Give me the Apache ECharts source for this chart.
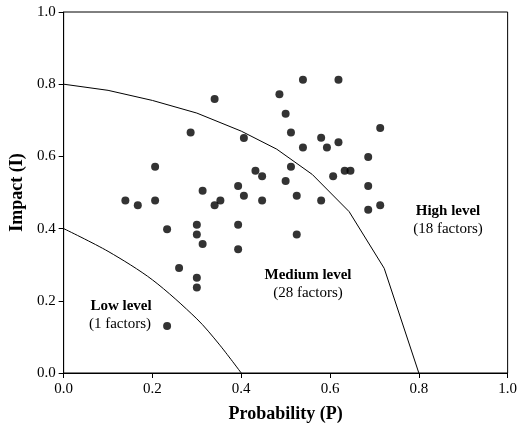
<!DOCTYPE html>
<html lang="en">
<head>
    <meta charset="UTF-8">
    <title>Probability-Impact matrix</title>
    <style>body{margin:0;}</style>
</head>
<body>
    <div id="main" style="width: 520px;height:432px;"></div>
</body>
<script src="https://cdn.jsdelivr.net/npm/echarts@6/dist/echarts.min.js"></script>
<script type="text/javascript">
    // factors: probability (P), impact (I)
    var probability = [0.340,0.486,0.500,0.512,0.286,0.406,0.206,0.512,0.432,0.447,0.500,0.393,0.313,0.406,0.525,
        0.139,0.167,0.206,0.340,0.353,0.447,0.539,0.619,0.713,0.580,0.593,0.619,0.539,0.686,0.633,0.646,0.607,
        0.686,0.580,0.686,0.713,0.233,0.300,0.300,0.313,0.393,0.393,0.525,0.260,0.300,0.300,0.233];
    var impact = [0.759,0.772,0.718,0.666,0.666,0.651,0.571,0.571,0.560,0.545,0.532,0.518,0.505,0.491,0.491,
        0.478,0.465,0.478,0.465,0.478,0.478,0.812,0.812,0.679,0.652,0.625,0.639,0.625,0.598,0.560,0.560,0.545,
        0.518,0.478,0.452,0.465,0.398,0.411,0.384,0.357,0.411,0.343,0.384,0.291,0.264,0.237,0.130];
    // boundary lines
    var lowLineX = [0, 0.1, 0.2, 0.3, 0.35, 0.4];
    var lowLineY = [0.4, 0.337, 0.258, 0.15, 0.08, 0];
    var highLineX = [0, 0.1, 0.2, 0.3, 0.4, 0.48, 0.56, 0.643, 0.722, 0.8];
    var highLineY = [0.8, 0.783, 0.755, 0.72, 0.67, 0.62, 0.55, 0.447, 0.29, 0];
    var tickLabels = ['0.0', '0.2', '0.4', '0.6', '0.8', '1.0'];

    function zip(a, b) {
        return a.map(function (v, i) { return [v, b[i]]; });
    }

    var font = 'Liberation Serif';
    var myChart = echarts.init(document.getElementById('main'));
    var axisCommon = {
        min: 0, max: 1, interval: 0.2,
        splitLine: {show: false},
        axisLine: {show: true, onZero: false, lineStyle: {color: '#000', width: 1}},
        axisTick: {show: true, inside: false, length: 5, lineStyle: {color: '#000'}},
        axisLabel: {
            color: '#000', fontFamily: font, fontSize: 15,
            formatter: function (v) { return tickLabels[Math.round(v * 5)]; }
        },
        nameLocation: 'middle',
        nameTextStyle: {color: '#000', fontFamily: font, fontSize: 18, fontWeight: 'bold'}
    };
    function note(x, y, text, bold) {
        return {type: 'text', x: x, y: y, style: {text: text, font: (bold ? 'bold ' : '') + '15px "Liberation Serif"',
            fill: '#000', textAlign: 'center', textVerticalAlign: 'middle'}};
    }
    var option = {
        animation: false,
        grid: {left: 63, right: 11, top: 12, bottom: 59, show: true, borderColor: '#000', borderWidth: 1},
        xAxis: Object.assign({}, axisCommon, {name: 'Probability (P)', nameGap: 32,
            axisLabel: Object.assign({}, axisCommon.axisLabel, {margin: 9})}),
        yAxis: Object.assign({}, axisCommon, {name: 'Impact (I)', nameGap: 33,
            axisLabel: Object.assign({}, axisCommon.axisLabel, {margin: 8})}),
        series: [
            {
                type: 'line', data: zip(highLineX, highLineY), showSymbol: false, symbol: 'none',
                lineStyle: {color: '#000', width: 1}, z: 1
            },
            {
                type: 'line', data: zip(lowLineX, lowLineY), showSymbol: false, symbol: 'none',
                smooth: 0.3, lineStyle: {color: '#000', width: 1}, z: 1
            },
            {
                type: 'scatter', data: zip(probability, impact), symbolSize: 8,
                itemStyle: {color: '#000'}, z: 3
            }
        ],
        graphic: [
            note(121, 306, 'Low level', true),
            note(120, 324, '(1 factors)', false),
            note(308, 275, 'Medium level', true),
            note(308, 293, '(28 factors)', false),
            note(448, 211, 'High level', true),
            note(448, 229, '(18 factors)', false)
        ]
    };
    myChart.setOption(option);
</script>
</html>
